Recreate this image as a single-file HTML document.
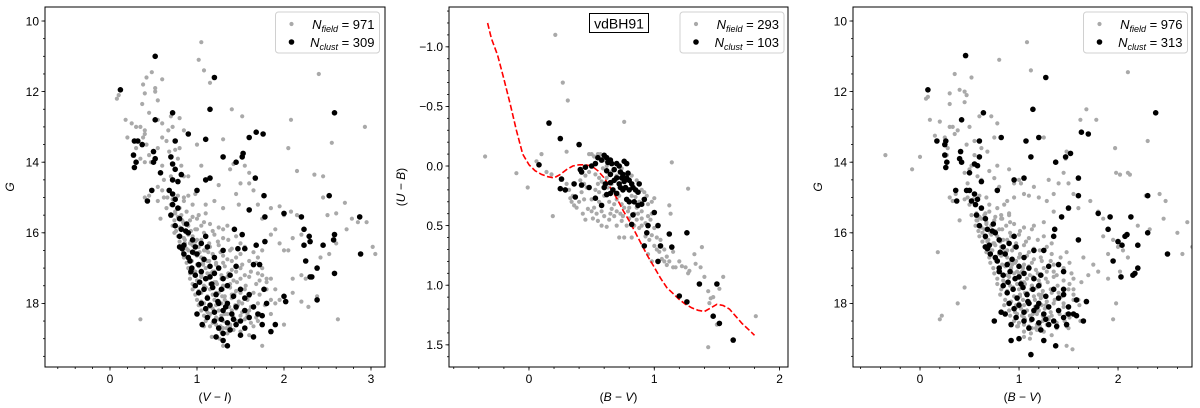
<!DOCTYPE html>
<html><head><meta charset="utf-8"><title>vdBH91 CMDs</title>
<style>
html,body{margin:0;padding:0;background:#fff;}
svg{display:block;font-family:"Liberation Sans","DejaVu Sans",sans-serif;}
</style></head>
<body>
<svg id="chart" width="1200" height="408" viewBox="0 0 1200 408" xmlns="http://www.w3.org/2000/svg"></svg>
<script>
// ---------- Panel 1: G vs (V-I) ----------
const p1FieldX = [0.08,0.1,0.18,0.2,0.25,0.3,0.35,0.4,0.38,0.4,0.42,0.38,0.48,0.52,0.52,0.55,0.6,0.4,0.37,0.45,0.55,0.6,0.67,0.7,0.8,0.85,0.72,0.6,0.65,0.3,0.35,0.42,0.45,0.47,0.4,0.55,0.68,0.75,0.8,0.78,0.6,0.62,0.7,0.82,0.85,0.9,0.55,0.6,0.4,0.45,0.55,0.62,0.65,0.7,0.58,0.75,0.8,0.85,0.9,0.95,0.98,1.05,1.0,1.05,1.02,1.08,1.15,1.4,1.52,1.3,1.38,1.42,1.55,1.6,1.5,1.45,1.25,1.2,1.1,1.3,1.6,1.65,1.48,1.7,1.75,1.85,1.95,2.0,2.08,2.15,2.05,2.08,2.15,2.35,2.45,2.55,2.4,2.45,2.5,2.6,2.7,2.78,2.85,2.95,2.93,3.02,3.05,2.72,2.6,2.52,2.42,2.2,2.1,2.05,2.0,1.85,1.9,1.95,1.75,2.2,2.25,2.1,2.1,2.2,2.28,2.38,2.62,1.95,1.9,1.8,1.75,1.9,1.85,2.0,0.35,1.75,1.3,
0.7,0.75,0.78,0.82,0.88,0.95,1.02,1.1,0.72,0.8,0.85,0.9,0.98,1.05,1.15,1.25,1.35,0.78,0.85,0.9,0.95,1.0,1.1,1.2,1.3,1.45,0.8,0.88,0.95,1.02,1.08,1.15,1.25,1.4,1.55,0.85,0.92,1.0,1.05,1.12,1.2,1.3,1.35,1.45,1.6,1.7,0.9,0.95,1.02,1.1,1.18,1.25,1.32,1.4,1.5,1.62,1.75,0.92,1.0,1.05,1.12,1.2,1.28,1.35,1.42,1.5,1.6,1.72,1.85,0.95,1.02,1.1,1.15,1.22,1.3,1.38,1.45,1.55,1.65,1.8,1.0,1.05,1.12,1.2,1.25,1.32,1.4,1.48,1.58,1.7,1.85,1.05,1.12,1.18,1.25,1.32,1.4,1.45,1.52,1.6,1.72,1.1,1.18,1.25,1.3,1.38,1.45,1.55,1.62,1.7,1.28,1.35,1.42,1.5,1.6,
0.74,0.86,0.97,1.07,1.16,1.23,1.33,1.43,1.03,1.14,1.27,1.37,1.47,1.57,1.08,1.17,1.26,1.34,1.41,0.83,0.93,1.13,1.22,1.29,
0.66,0.72,0.78,0.85,
0.74,0.79,0.84,0.92,1.0,1.08,
0.76,0.82,0.88,0.93,1.0,1.08,1.18,1.3,
0.8,0.86,0.92,0.98,1.05,1.14,1.24,1.36,1.5,
0.84,0.9,0.97,1.03,1.1,1.18,1.27,1.38,1.5,1.65,
0.88,0.94,1.0,1.07,1.14,1.22,1.3,1.4,1.52,1.68,
0.92,0.98,1.05,1.12,1.2,1.28,1.36,1.45,1.55,1.7,
0.95,1.02,1.08,1.15,1.22,1.3,1.38,1.46,1.56,1.68,1.8,
0.98,1.05,1.12,1.18,1.25,1.32,1.4,1.5,1.6,1.72,
1.02,1.08,1.15,1.22,1.28,1.36,1.44,1.52,1.62,1.78,
1.08,1.15,1.22,1.28,1.35,1.42,1.5,1.58,1.68,
1.15,1.22,1.3,1.38,1.45,1.55,1.65];
const p1FieldY = [12.2,12.1,12.8,13.3,12.9,13.0,13.0,13.2,13.3,13.1,11.6,11.8,11.45,11.9,12.0,12.25,11.65,12.05,12.35,12.6,12.8,12.9,13.1,12.7,12.75,13.1,13.0,13.3,13.4,13.6,13.9,13.5,13.8,14.0,14.0,13.6,13.7,13.65,13.6,13.9,14.1,14.5,14.4,14.1,14.4,14.4,14.7,14.8,15.0,14.95,15.1,15.0,15.3,15.2,15.6,15.4,15.3,15.1,14.95,15.2,14.9,14.1,13.5,10.6,11.1,11.4,11.75,12.5,12.7,13.35,14.2,14.05,14.1,14.3,14.6,14.9,14.65,15.1,15.2,15.3,14.6,14.8,15.2,15.2,15.6,15.3,15.25,15.5,15.4,15.5,13.6,12.8,14.25,14.35,14.4,13.45,11.5,15.0,15.5,15.45,15.15,15.6,15.7,15.7,13.0,16.4,16.6,15.9,16.3,16.6,16.7,16.05,16.15,16.5,16.5,16.05,15.9,16.3,16.5,17.2,17.3,17.3,17.7,17.95,18.1,17.8,18.45,17.9,17.6,17.3,17.2,18.0,18.3,18.6,18.45,19.2,19.2,
15.5,15.45,15.55,15.5,15.4,15.55,15.5,15.45,15.8,15.85,15.75,15.8,15.9,15.8,15.75,15.85,15.8,16.1,16.15,16.05,16.1,16.2,16.1,16.05,16.15,16.1,16.4,16.45,16.35,16.4,16.5,16.4,16.35,16.45,16.4,16.7,16.75,16.65,16.7,16.8,16.7,16.65,16.75,16.7,16.8,16.7,17.0,17.05,16.95,17.0,17.1,17.0,16.95,17.05,17.0,17.1,17.0,17.3,17.35,17.25,17.3,17.4,17.3,17.25,17.35,17.3,17.25,17.35,17.3,17.6,17.65,17.55,17.6,17.7,17.6,17.55,17.65,17.6,17.7,17.6,17.9,17.95,17.85,17.9,18.0,17.9,17.85,17.95,17.9,18.0,17.9,18.2,18.25,18.15,18.2,18.3,18.2,18.15,18.25,18.2,18.3,18.5,18.55,18.45,18.5,18.6,18.5,18.45,18.55,18.5,18.8,18.85,18.75,18.8,18.9,
16.0,16.3,16.55,16.9,17.15,17.45,17.5,17.75,18.05,18.35,18.65,18.1,18.05,18.4,18.65,18.95,19.0,18.7,18.35,15.65,16.25,16.55,16.85,17.8,
15.0,15.05,14.95,15.0,
15.65,15.6,15.7,15.65,15.6,15.7,
15.95,15.9,16.0,15.95,15.9,16.0,15.95,15.9,
16.25,16.2,16.3,16.25,16.2,16.3,16.25,16.2,16.3,
16.55,16.5,16.6,16.55,16.5,16.6,16.55,16.5,16.6,16.55,
16.85,16.8,16.9,16.85,16.8,16.9,16.85,16.8,16.9,16.85,
17.15,17.1,17.2,17.15,17.1,17.2,17.15,17.1,17.2,17.15,
17.45,17.4,17.5,17.45,17.4,17.5,17.45,17.4,17.5,17.45,17.4,
17.75,17.7,17.8,17.75,17.7,17.8,17.75,17.7,17.8,17.75,
18.05,18.0,18.1,18.05,18.0,18.1,18.05,18.0,18.1,18.05,
18.35,18.3,18.4,18.35,18.3,18.4,18.35,18.3,18.4,
18.65,18.6,18.7,18.65,18.6,18.7,18.65];
const p1ClustX = [0.52,0.12,1.2,1.15,0.72,2.58,0.52,0.9,1.6,1.68,1.76,1.1,0.28,0.32,0.37,0.5,0.75,0.27,0.3,0.28,0.52,0.5,1.3,1.52,1.53,1.45,0.7,0.72,0.75,0.82,0.58,0.72,1.1,1.15,1.67,0.48,0.43,1.0,1.77,1.6,1.78,2.0,2.2,2.23,2.23,2.29,2.3,2.45,2.58,2.57,2.52,2.87,2.88,2.25,2.38,2.32,2.3,2.58,2.38,2.0,2.02,1.78,1.68,1.77,1.52,1.43,1.47,1.55,1.65,1.72,1.8,1.9,1.85,1.75,1.65,1.55,1.5,1.35,1.3,1.22,1.3,
0.68,0.72,0.75,0.78,0.7,0.8,0.75,0.82,0.88,0.9,0.8,0.95,0.85,0.83,0.98,1.05,1.1,1.12,0.9,0.92,1.0,1.02,1.08,1.15,1.2,1.3,0.93,0.98,1.05,1.1,1.15,1.2,1.25,1.3,1.38,1.45,0.98,1.02,1.08,1.12,1.18,1.22,1.28,1.35,1.42,1.5,1.55,1.6,1.05,1.1,1.15,1.2,1.25,1.3,1.35,1.4,1.45,1.55,1.65,1.7,1.0,1.12,1.2,1.28,1.35,1.42,1.5,1.6,1.75,1.25,1.38,1.45,0.8,0.85,0.72,0.78,0.87,0.95,1.03,1.17,1.24,1.33,1.06,0.94];
const p1ClustY = [11.0,11.95,11.6,12.5,12.6,12.6,12.8,13.2,13.3,13.15,13.2,13.35,13.4,13.4,13.5,13.7,13.4,13.8,14.0,14.15,13.9,14.0,13.85,13.85,13.75,14.0,13.85,14.05,14.2,14.35,14.3,14.5,14.5,14.45,14.45,14.8,15.1,14.8,14.95,15.35,15.55,15.45,15.55,15.9,16.35,16.1,16.25,16.35,16.05,16.2,14.95,15.55,16.6,16.8,17.0,17.25,17.25,17.15,17.9,17.8,17.95,16.25,16.35,17.6,16.05,15.9,16.45,16.45,16.9,16.9,18.0,18.6,18.8,18.6,18.95,18.7,18.9,19.2,19.05,18.95,18.85,
14.8,14.9,15.05,15.3,15.5,15.6,15.8,15.9,15.75,16.0,16.1,16.2,16.35,16.45,16.4,16.3,16.1,16.4,16.7,16.8,16.6,16.9,16.75,16.95,16.7,16.5,17.1,17.2,17.1,17.3,17.25,17.15,17.0,17.3,17.2,16.95,17.5,17.7,17.6,17.85,17.55,17.75,17.6,17.5,17.8,17.6,17.85,17.75,18.0,18.15,18.05,18.25,18.0,18.2,18.0,18.3,18.1,18.2,18.1,18.3,18.3,18.4,18.5,18.45,18.55,18.45,18.5,18.4,18.35,18.7,18.75,18.6,16.4,16.6,15.2,14.55,15.95,16.55,17.4,17.45,17.95,18.1,18.6,17.0];

// ---------- Panel 2: (U-B) vs (B-V) ----------
const p2FieldX = [-0.35,-0.1,-0.01,0.06,0.1,0.14,0.18,0.19,0.21,0.27,0.31,0.3,0.76,0.3,0.32,0.35,0.34,0.36,0.4,0.42,0.44,0.46,0.47,0.5,0.52,0.54,0.56,0.58,0.6,0.64,0.66,0.68,0.7,0.72,0.76,0.74,0.62,0.51,0.55,0.48,0.5,0.52,0.55,0.57,0.6,0.48,0.53,0.56,0.58,0.59,0.62,0.63,0.66,0.68,0.7,0.72,0.74,0.76,0.79,0.8,0.82,0.85,0.86,0.88,0.9,0.86,0.88,0.9,0.93,0.95,0.97,0.98,1.0,1.0,1.02,1.02,1.04,1.06,1.08,1.1,1.1,1.12,1.15,1.13,1.12,1.17,1.22,1.27,1.28,1.32,1.33,1.37,1.38,1.4,1.43,1.44,1.45,1.47,1.5,1.55,1.52,1.43,1.81,1.14,1.27,0.96,0.93,0.95,0.98,1.0,0.44,0.45,0.41,0.6,0.53,0.78,0.82,0.84,0.87,0.75,0.65,0.95,0.92,
0.33,0.38,0.43,0.5,0.56,0.64,0.7,0.58,0.45,0.68,0.73,0.8,0.84,0.9,0.98,1.05,1.08,1.15,1.2,1.25,0.55,0.62,0.66,0.7,0.74,0.82,0.86,0.9,0.94,0.98];
const p2FieldY = [-0.08,0.06,0.18,-0.04,-0.1,0.05,0.07,0.42,-1.1,-0.7,-0.55,-0.12,-0.37,0.15,0.2,0.25,0.3,0.33,0.3,0.22,0.28,0.18,0.36,0.38,0.35,0.4,0.3,0.38,0.42,0.3,0.36,0.42,0.5,0.6,0.6,0.46,0.51,0.44,0.46,-0.1,-0.1,-0.08,-0.1,-0.1,-0.05,0.05,0.07,0.1,0.13,0.02,0.1,0.18,0.15,0.22,0.28,0.25,0.32,0.35,0.38,0.35,0.25,0.26,0.35,0.3,0.38,0.45,0.52,0.44,0.48,0.42,0.45,0.3,0.27,0.52,0.6,0.7,0.72,0.78,0.8,0.76,0.83,0.8,0.85,0.4,0.33,0.85,0.84,0.9,0.88,0.74,0.82,0.85,0.68,0.93,1.05,1.15,1.11,1.1,1.33,0.93,1.03,1.52,1.26,-0.03,0.19,0.62,0.59,0.74,0.8,0.67,0.15,0.08,0.12,0.25,0.2,0.5,0.6,0.5,0.4,0.42,0.4,0.32,0.22,
0.27,0.35,0.4,0.28,0.22,0.45,0.38,0.5,0.45,0.32,0.4,0.44,0.4,0.5,0.58,0.62,0.7,0.72,0.8,0.85,0.15,0.0,0.05,0.08,0.02,0.08,0.12,0.2,0.25,0.4];
const p2ClustX = [0.16,0.25,0.4,0.08,0.26,0.25,0.29,0.36,0.42,0.37,0.41,0.42,0.48,0.53,0.58,0.6,0.61,0.62,0.65,0.67,0.45,0.5,0.53,0.55,0.58,0.6,0.62,0.63,0.65,0.66,0.62,0.65,0.68,0.7,0.72,0.73,0.75,0.76,0.78,0.74,0.7,0.72,0.76,0.78,0.8,0.82,0.77,0.75,0.8,0.83,0.85,0.88,0.87,0.7,0.78,0.8,0.84,0.87,0.9,0.92,0.83,0.82,0.95,0.94,1.0,1.03,1.05,0.92,1.03,1.12,1.14,1.26,1.36,1.2,1.26,1.47,1.5,1.52,1.63,0.65,0.68,0.73,0.79];
const p2ClustY = [-0.36,-0.23,-0.18,-0.01,0.11,0.19,0.2,0.15,0.16,0.26,0.03,0.05,0.18,0.27,0.33,0.18,0.15,0.24,0.23,0.2,0.01,0.0,-0.02,-0.07,-0.05,-0.09,-0.07,-0.03,-0.05,-0.02,0.04,0.07,0.03,-0.02,0.0,0.05,0.07,-0.04,-0.02,0.1,0.1,0.15,0.13,0.1,0.12,0.15,0.18,0.2,0.2,0.18,0.2,0.15,0.22,0.23,0.28,0.3,0.3,0.33,0.32,0.28,0.41,0.49,0.5,0.56,0.39,0.5,0.67,0.67,0.8,0.57,0.68,0.56,0.99,1.09,1.14,1.26,0.99,1.32,1.46,0.14,0.12,0.18,0.06];
const p2CurveX = [-0.33,-0.3,-0.25,-0.2,-0.15,-0.1,-0.05,0,0.05,0.1,0.15,0.2,0.25,0.3,0.35,0.4,0.45,0.5,0.55,0.6,0.65,0.7,0.75,0.8,0.85,0.9,0.95,1.0,1.05,1.1,1.15,1.2,1.25,1.3,1.35,1.4,1.45,1.5,1.55,1.6,1.65,1.7,1.75,1.8];
const p2CurveY = [-1.2,-1.07,-0.93,-0.73,-0.52,-0.3,-0.1,-0.01,0.04,0.07,0.09,0.1,0.07,0.03,0.0,-0.01,-0.01,0.0,0.04,0.1,0.18,0.27,0.37,0.46,0.56,0.66,0.76,0.85,0.94,1.02,1.07,1.12,1.16,1.19,1.21,1.22,1.19,1.16,1.17,1.2,1.26,1.32,1.37,1.42];

// ---------- Panel 3: G vs (B-V) ----------
const p3FieldX = [-0.35,-0.08,0.0,0.06,0.08,0.1,0.15,0.2,0.25,0.28,0.3,0.33,0.35,0.27,0.28,0.3,0.4,0.45,0.45,0.47,0.52,0.3,0.35,0.38,0.47,0.5,0.55,0.6,0.62,0.72,0.8,0.78,0.75,0.68,0.55,0.5,0.45,0.48,0.52,0.58,0.62,0.7,0.75,0.8,0.9,0.95,1.0,1.05,0.85,0.9,0.3,0.33,0.36,0.45,0.5,0.58,0.62,0.66,0.7,0.78,0.82,0.88,0.95,1.02,1.1,1.08,1.12,1.25,0.78,1.15,1.2,1.28,1.35,1.4,1.45,1.47,1.48,1.3,1.25,1.35,1.5,1.55,1.6,1.62,1.68,1.72,1.8,1.85,1.78,1.97,1.98,2.02,2.1,2.12,2.3,2.1,2.28,2.42,2.46,2.48,2.65,2.7,2.75,2.6,2.32,2.2,2.1,2.05,1.95,1.85,1.9,2.0,1.8,1.75,1.9,2.02,1.95,1.98,1.65,1.7,1.55,1.6,1.62,1.5,0.2,0.22,0.38,0.45,0.4,0.18,1.0,1.2,1.54,1.48,
0.52,0.57,0.6,0.65,0.7,0.76,0.82,0.9,0.56,0.62,0.67,0.72,0.8,0.87,0.95,1.05,1.15,0.6,0.66,0.72,0.78,0.84,0.92,1.0,1.1,1.25,0.65,0.7,0.76,0.82,0.88,0.95,1.05,1.15,1.28,0.7,0.76,0.82,0.88,0.94,1.0,1.08,1.15,1.22,1.32,1.42,0.74,0.8,0.86,0.92,0.98,1.04,1.1,1.17,1.25,1.35,1.45,0.78,0.84,0.9,0.96,1.02,1.08,1.14,1.2,1.27,1.35,1.45,1.55,0.82,0.88,0.94,1.0,1.06,1.12,1.18,1.24,1.32,1.4,1.5,0.86,0.92,0.98,1.04,1.1,1.16,1.22,1.28,1.36,1.45,1.55,0.9,0.96,1.02,1.08,1.14,1.2,1.26,1.32,1.4,1.48,0.95,1.0,1.06,1.12,1.18,1.24,1.3,1.38,1.46,1.05,1.12,1.18,1.25,1.33,
0.63,0.74,0.85,0.93,1.0,1.06,1.13,1.2,0.97,1.03,1.1,1.16,1.23,1.3,0.99,1.05,1.11,1.17,1.24,0.58,0.68,0.86,0.96,1.01,
0.48,0.54,0.6,0.67,
0.57,0.62,0.67,0.75,0.83,0.91,
0.59,0.65,0.71,0.76,0.83,0.91,1.01,1.13,
0.63,0.69,0.75,0.81,0.88,0.97,1.07,1.19,1.33,
0.67,0.73,0.8,0.86,0.93,1.01,1.1,1.21,1.33,1.48,
0.71,0.77,0.83,0.9,0.97,1.05,1.13,1.23,1.35,1.51,
0.75,0.81,0.88,0.95,1.03,1.11,1.19,1.28,1.38,1.53,
0.78,0.85,0.91,0.98,1.05,1.13,1.21,1.29,1.39,1.51,1.63,
0.81,0.88,0.95,1.01,1.08,1.15,1.23,1.33,1.43,1.55,
0.85,0.91,0.98,1.05,1.11,1.19,1.27,1.35,1.45,1.61,
0.91,0.98,1.05,1.11,1.18,1.25,1.33,1.41,1.51,
0.98,1.05,1.13,1.21,1.28,1.38,1.48];
const p3FieldY = [13.8,14.2,13.85,12.2,12.15,12.8,13.25,12.85,13.3,13.6,13.0,13.0,11.5,13.8,14.0,12.05,11.95,12.0,12.3,12.1,11.6,12.35,13.2,13.1,13.5,13.0,13.4,12.7,13.6,12.7,11.1,12.9,13.3,13.7,13.8,14.2,14.3,14.6,14.1,14.4,14.5,14.25,14.45,14.7,14.2,14.6,14.5,14.9,15.2,15.5,15.0,15.1,14.9,15.05,15.2,15.5,15.3,15.45,15.2,15.3,15.6,15.1,15.0,14.6,14.95,10.6,11.4,13.3,14.1,14.7,15.0,15.1,14.9,14.6,14.3,13.9,13.7,14.5,15.7,15.4,14.6,14.9,15.3,12.8,12.5,15.1,15.4,15.6,12.8,13.6,14.3,14.35,14.3,14.35,13.4,11.45,14.95,14.9,15.6,15.1,16.6,15.7,16.4,16.0,15.9,15.8,16.7,16.5,16.2,16.1,16.6,16.4,17.1,16.9,17.3,17.1,18.45,18.0,16.7,17.2,17.6,17.9,18.5,18.7,18.45,18.35,18.0,17.55,15.65,16.55,18.0,18.2,19.3,19.2,
15.5,15.45,15.55,15.5,15.4,15.55,15.5,15.45,15.8,15.85,15.75,15.8,15.9,15.8,15.75,15.85,15.8,16.1,16.15,16.05,16.1,16.2,16.1,16.05,16.15,16.1,16.4,16.45,16.35,16.4,16.5,16.4,16.35,16.45,16.4,16.7,16.75,16.65,16.7,16.8,16.7,16.65,16.75,16.7,16.8,16.7,17.0,17.05,16.95,17.0,17.1,17.0,16.95,17.05,17.0,17.1,17.0,17.3,17.35,17.25,17.3,17.4,17.3,17.25,17.35,17.3,17.25,17.35,17.3,17.6,17.65,17.55,17.6,17.7,17.6,17.55,17.65,17.6,17.7,17.6,17.9,17.95,17.85,17.9,18.0,17.9,17.85,17.95,17.9,18.0,17.9,18.2,18.25,18.15,18.2,18.3,18.2,18.15,18.25,18.2,18.3,18.5,18.55,18.45,18.5,18.6,18.5,18.45,18.55,18.5,18.8,18.85,18.75,18.8,18.9,
16.0,16.3,16.55,16.9,17.15,17.45,17.5,17.75,18.05,18.35,18.65,18.1,18.05,18.4,18.65,18.95,19.0,18.7,18.35,15.65,16.25,16.55,16.85,17.8,
15.0,15.05,14.95,15.0,
15.65,15.6,15.7,15.65,15.6,15.7,
15.95,15.9,16.0,15.95,15.9,16.0,15.95,15.9,
16.25,16.2,16.3,16.25,16.2,16.3,16.25,16.2,16.3,
16.55,16.5,16.6,16.55,16.5,16.6,16.55,16.5,16.6,16.55,
16.85,16.8,16.9,16.85,16.8,16.9,16.85,16.8,16.9,16.85,
17.15,17.1,17.2,17.15,17.1,17.2,17.15,17.1,17.2,17.15,
17.45,17.4,17.5,17.45,17.4,17.5,17.45,17.4,17.5,17.45,17.4,
17.75,17.7,17.8,17.75,17.7,17.8,17.75,17.7,17.8,17.75,
18.05,18.0,18.1,18.05,18.0,18.1,18.05,18.0,18.1,18.05,
18.35,18.3,18.4,18.35,18.3,18.4,18.35,18.3,18.4,
18.65,18.6,18.7,18.65,18.6,18.7,18.65];
const p3ClustX = [0.08,0.46,1.27,1.14,2.38,0.42,0.64,0.82,1.07,1.2,1.63,1.7,0.17,0.26,0.25,0.25,0.27,0.26,0.41,0.4,0.42,0.6,0.6,0.55,0.58,0.5,1.12,1.37,1.47,1.52,0.95,1.05,1.6,0.36,0.37,0.47,0.52,0.78,1.6,2.3,1.5,1.43,1.8,1.92,2.13,1.9,2.0,2.04,2.07,2.09,2.3,2.2,2.5,1.95,2.03,2.15,2.17,2.2,1.6,1.36,1.35,1.25,1.45,1.4,1.45,1.58,1.68,1.65,1.5,1.48,1.38,1.37,1.25,1.12,0.92,1.0,0.75,0.82,
0.5,0.55,0.58,0.62,0.57,0.66,0.6,0.68,0.74,0.76,0.66,0.8,0.7,0.68,0.84,0.9,0.95,0.97,0.76,0.78,0.86,0.88,0.93,1.0,1.05,1.15,0.8,0.84,0.91,0.96,1.0,1.05,1.1,1.15,1.22,1.3,0.84,0.88,0.94,0.98,1.04,1.08,1.14,1.2,1.27,1.35,1.4,1.45,0.9,0.95,1.0,1.05,1.1,1.15,1.2,1.25,1.3,1.4,1.5,1.55,0.86,0.97,1.05,1.13,1.2,1.27,1.35,1.45,1.58,1.1,1.22,1.3,0.66,0.71,0.56,0.62,0.73,0.81,0.89,1.02,1.09,1.18,0.92,0.8];
const p3ClustY = [11.95,10.98,11.6,12.5,12.6,12.8,12.6,13.3,13.4,13.3,13.15,13.2,13.4,13.4,13.5,13.8,14.0,14.15,13.7,13.9,14.0,13.4,13.85,14.05,14.1,14.3,13.85,14.0,13.85,13.75,14.5,14.45,14.45,14.8,15.1,14.8,15.1,14.8,14.95,14.95,15.3,15.55,15.45,15.55,15.55,15.9,16.25,16.35,16.1,16.05,16.0,16.35,16.6,16.8,17.25,17.2,17.15,17.0,16.2,15.9,16.1,16.5,17.1,16.9,17.6,17.9,17.95,18.5,18.3,18.6,18.65,19.2,19.05,19.45,19.05,19.0,18.5,18.25,
14.8,14.9,15.05,15.3,15.5,15.6,15.8,15.9,15.75,16.0,16.1,16.2,16.35,16.45,16.4,16.3,16.1,16.4,16.7,16.8,16.6,16.9,16.75,16.95,16.7,16.5,17.1,17.2,17.1,17.3,17.25,17.15,17.0,17.3,17.2,16.95,17.5,17.7,17.6,17.85,17.55,17.75,17.6,17.5,17.8,17.6,17.85,17.75,18.0,18.15,18.05,18.25,18.0,18.2,18.0,18.3,18.1,18.2,18.1,18.3,18.3,18.4,18.5,18.45,18.55,18.45,18.5,18.4,18.35,18.7,18.75,18.6,16.4,16.6,15.2,14.55,15.95,16.55,17.4,17.45,17.95,18.1,18.6,17.0];

const p1XTicks = [0,1,2,3];
const p1YTicks = [10,12,14,16,18];
const p2XTicks = [0,1,2];
const p2YTicks = [-1.0,-0.5,0.0,0.5,1.0,1.5];
const p3XTicks = [0,1,2];
const p3YTicks = [10,12,14,16,18];
const p1Legend = ['971','309'];
const p2Legend = ['293','103'];
const p3Legend = ['976','313'];

const NS = 'http://www.w3.org/2000/svg';
const svg = document.getElementById('chart');
function mk(tag, attrs, parent){
  const e = document.createElementNS(NS, tag);
  for (const k in attrs) e.setAttribute(k, attrs[k]);
  (parent||svg).appendChild(e);
  return e;
}
function fmt(v, dec){ const s = v.toFixed(dec); return s.replace('-', '\u2212'); }

function panel(cfg){
  const g = mk('g', {});
  
  
  const sx = v => cfg.l + (v - cfg.x0) / (cfg.x1 - cfg.x0) * (cfg.r - cfg.l);
  const sy = v => cfg.t + (v - cfg.y0) / (cfg.y1 - cfg.y0) * (cfg.b - cfg.t);
  const clipId = cfg.name + '-clip';
  const cp = mk('clipPath', {id: clipId}, g);
  mk('rect', {x: cfg.l, y: cfg.t, width: cfg.r - cfg.l, height: cfg.b - cfg.t}, cp);
  const plot = mk('g', {'clip-path': 'url(#' + clipId + ')'}, g);
  
  
  for (let i = 0; i < cfg.fx.length; i++){
    const c = mk('circle', {cx: sx(cfg.fx[i]).toFixed(1), cy: sy(cfg.fy[i]).toFixed(1), r: 2.1, fill: '#a9a9a9'}, plot);
    
    
  }
  if (cfg.cx){
    let d = '';
    for (let i = 0; i < cfg.cx.length; i++) d += (i ? 'L' : 'M') + sx(cfg.cx[i]).toFixed(1) + ',' + sy(cfg.cy[i]).toFixed(1);
    const p = mk('path', {d: d, fill: 'none', stroke: '#ff0000', 'stroke-width': 1.6, 'stroke-dasharray': '6,2.5'}, plot);
    
    
  }
  for (let i = 0; i < cfg.kx.length; i++){
    const c = mk('circle', {cx: sx(cfg.kx[i]).toFixed(1), cy: sy(cfg.ky[i]).toFixed(1), r: 2.8, fill: '#000'}, plot);
    
    
  }
  const fr = mk('rect', {x: cfg.l, y: cfg.t, width: cfg.r - cfg.l, height: cfg.b - cfg.t, fill: 'none', stroke: '#000', 'stroke-width': 1}, g);
  
  
  for (let v = Math.ceil(cfg.x0 / cfg.xm) * cfg.xm; v <= cfg.x1; v += cfg.xm){
    const X = sx(v); mk('line', {x1: X, x2: X, y1: cfg.b, y2: cfg.b + 2, stroke: '#000', 'stroke-width': 0.8}, g);
  }
  for (let v = Math.ceil(cfg.y0 / cfg.ym) * cfg.ym; v <= cfg.y1; v += cfg.ym){
    const Y = sy(v); mk('line', {x1: cfg.l - 2, x2: cfg.l, y1: Y, y2: Y, stroke: '#000', 'stroke-width': 0.8}, g);
  }
  cfg.xt.forEach(v => {
    const X = sx(v);
    mk('line', {x1: X, x2: X, y1: cfg.b, y2: cfg.b + 3.5, stroke: '#000', 'stroke-width': 0.8}, g);
    const t = mk('text', {x: X, y: cfg.b + 16, 'text-anchor': 'middle', 'font-size': 12}, g);
    t.textContent = fmt(v, cfg.xd);
    
    
  });
  cfg.yt.forEach(v => {
    const Y = sy(v);
    mk('line', {x1: cfg.l - 3.5, x2: cfg.l, y1: Y, y2: Y, stroke: '#000', 'stroke-width': 0.8}, g);
    const t = mk('text', {x: cfg.l - 6, y: Y + 4.3, 'text-anchor': 'end', 'font-size': 12}, g);
    t.textContent = fmt(v, cfg.yd);
    
    
  });
  const xl = mk('text', {x: (cfg.l + cfg.r) / 2, y: 401, 'text-anchor': 'middle', 'font-size': 12}, g);
  xl.innerHTML = '(<tspan font-style="italic">' + cfg.xa[0] + '</tspan> \u2212 <tspan font-style="italic">' + cfg.xa[1] + '</tspan>)';
  
  
  const yx = cfg.yax, yy = (cfg.t + cfg.b) / 2;
  const yl = mk('text', {x: yx, y: yy, 'text-anchor': 'middle', 'font-size': 12, transform: 'rotate(-90 ' + yx + ' ' + yy + ')'}, g);
  yl.innerHTML = cfg.ya.length === 1 ? '<tspan font-style="italic">' + cfg.ya[0] + '</tspan>' :
    '(<tspan font-style="italic">' + cfg.ya[0] + '</tspan> \u2212 <tspan font-style="italic">' + cfg.ya[1] + '</tspan>)';
  
  
  const lg = mk('g', {}, g);
  
  
  const L = cfg.legX;
  mk('rect', {x: L, y: 12, width: 104, height: 41, rx: 3, fill: 'rgba(255,255,255,0.85)', stroke: '#d0d0d0', 'stroke-width': 1}, lg);
  const names = ['field', 'clust'];
  [0, 1].forEach(i => {
    const ye = 24 + i * 18;
    const e = mk('g', {}, lg);
    
    
    mk('circle', {cx: L + 16, cy: ye, r: i ? 2.8 : 2.1, fill: i ? '#000' : '#a9a9a9'}, e);
    const t = mk('text', {x: L + 99, y: ye + 5, 'text-anchor': 'end', 'font-size': 13}, e);
    t.innerHTML = '<tspan font-style="italic">N</tspan><tspan font-style="italic" font-size="9" dy="3">' + names[i] + '</tspan><tspan dy="-3"> = ' + cfg.leg[i] + '</tspan>';
  });
  if (cfg.title){
    const tg = mk('g', {}, g);
    
    
    mk('rect', {x: 589.5, y: 13.5, width: 59, height: 19, fill: '#fff', stroke: '#000', 'stroke-width': 1}, tg);
    const t = mk('text', {x: 619, y: 28.5, 'text-anchor': 'middle', 'font-size': 14}, tg);
    t.textContent = cfg.title;
  }
}

panel({name: 'panel-g-vs-vi', l: 45, r: 385, t: 7, b: 367, x0: -0.747, x1: 3.161, y0: 9.603, y1: 19.802,
  fx: p1FieldX, fy: p1FieldY, kx: p1ClustX, ky: p1ClustY, xt: p1XTicks, yt: p1YTicks, xd: 0, yd: 0, xm: 0.2, ym: 0.5,
  xa: ['V', 'I'], ya: ['G'], yax: 14, legX: 275.5, leg: p1Legend});
panel({name: 'panel-ub-vs-bv', l: 449, r: 788, t: 7, b: 367, x0: -0.638, x1: 2.067, y0: -1.334, y1: 1.686,
  fx: p2FieldX, fy: p2FieldY, kx: p2ClustX, ky: p2ClustY, cx: p2CurveX, cy: p2CurveY, xt: p2XTicks, yt: p2YTicks, xd: 0, yd: 1, xm: 0.2, ym: 0.1,
  xa: ['B', 'V'], ya: ['U', 'B'], yax: 405, legX: 680, leg: p2Legend, title: 'vdBH91'});
panel({name: 'panel-g-vs-bv', l: 853, r: 1192, t: 7, b: 367, x0: -0.677, x1: 2.747, y0: 9.603, y1: 19.802,
  fx: p3FieldX, fy: p3FieldY, kx: p3ClustX, ky: p3ClustY, xt: p3XTicks, yt: p3YTicks, xd: 0, yd: 0, xm: 0.2, ym: 0.5,
  xa: ['B', 'V'], ya: ['G'], yax: 822, legX: 1083.5, leg: p3Legend});
</script>
</body></html>
